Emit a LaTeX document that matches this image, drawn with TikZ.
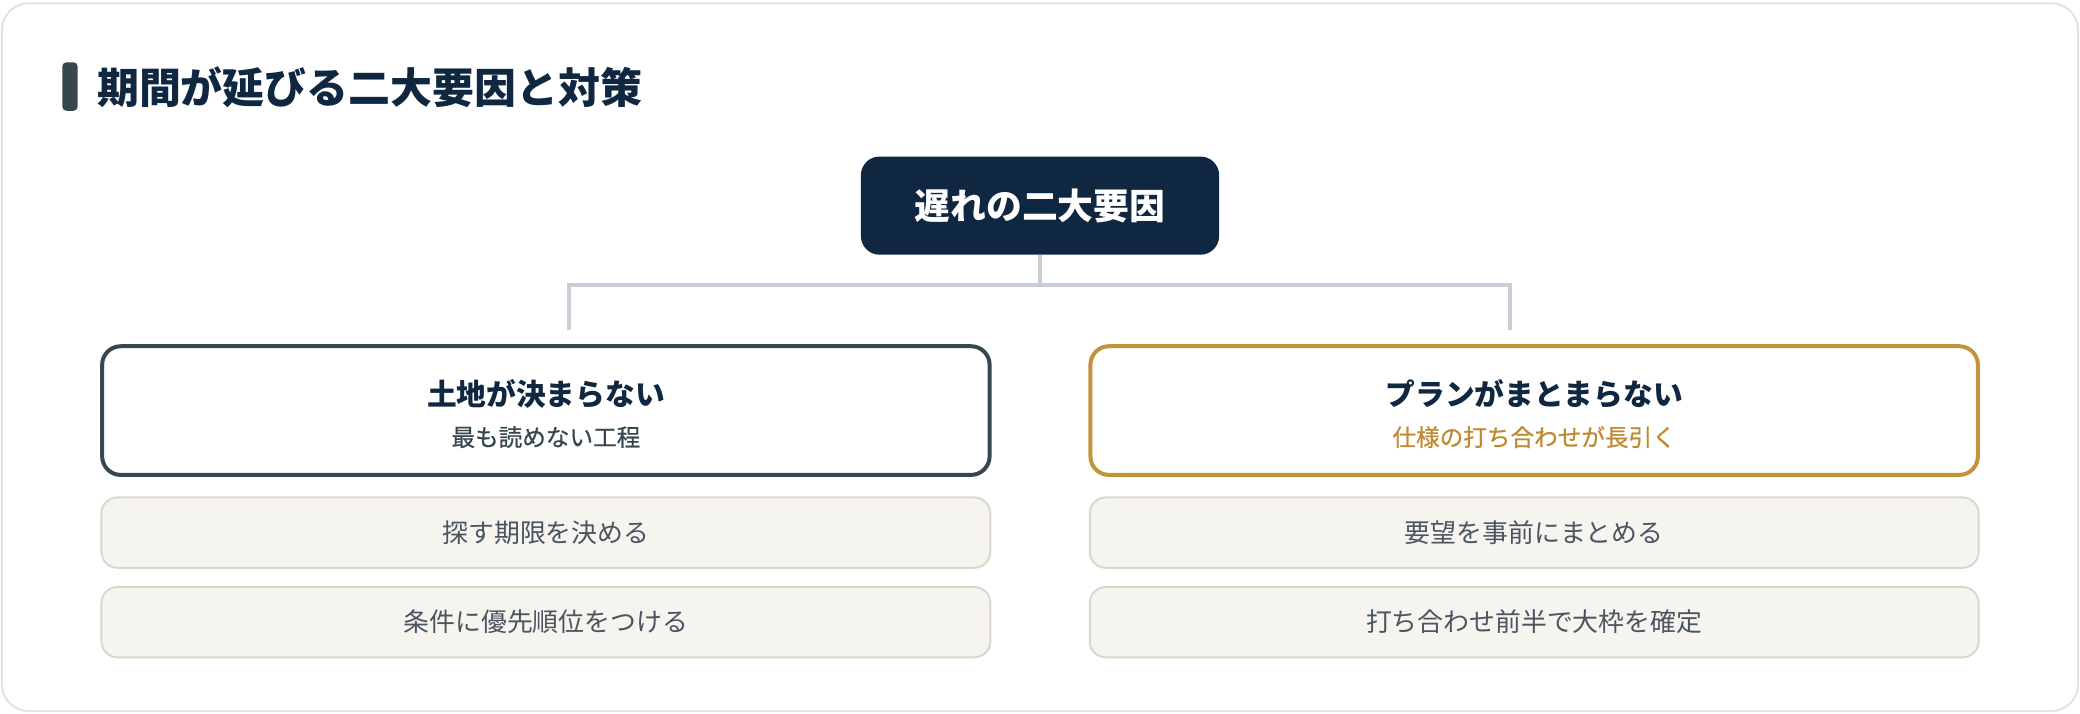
\documentclass[tikz,border=0pt]{standalone}
\usepackage{fontspec}
\setmainfont{Noto Sans CJK JP}
\newfontfamily\jpmed{Noto Sans CJK JP}[FakeBold=0.7]
\definecolor{navy}{HTML}{0F2740}
\definecolor{slate}{HTML}{37474F}
\definecolor{gold}{HTML}{C4923A}
\definecolor{goldtext}{HTML}{C08A32}
\definecolor{connc}{HTML}{C8CED8}
\definecolor{actfill}{HTML}{F5F4EF}
\definecolor{actline}{HTML}{DCD8C9}
\definecolor{outline}{HTML}{E6E3D9}
\definecolor{acttext}{HTML}{4B5560}
\tikzset{
  rootbox/.style={fill=navy, rounded corners=14pt, minimum width=270pt, minimum height=74pt, inner sep=0pt, text=white, font=\fontsize{27}{30}\selectfont\bfseries},
  causebox/.style={fill=white, line width=3pt, rounded corners=14pt, minimum width=669pt, minimum height=97pt, inner sep=0pt},
  actbox/.style={fill=actfill, draw=actline, line width=1.5pt, rounded corners=12pt, minimum width=670pt, minimum height=53pt, inner sep=0pt, text=acttext, font=\fontsize{19.5}{22}\selectfont},
  causetitle/.style={inner sep=0pt, text=navy, font=\fontsize{22.4}{25}\selectfont\bfseries},
  causesub/.style={inner sep=0pt, font=\jpmed\fontsize{17.8}{20}\selectfont},
  conn/.style={draw=connc, line width=3pt}
}
\begin{document}
\begin{tikzpicture}[x=1pt,y=-1pt]
\useasboundingbox (0,0) rectangle (1568,538);
\fill[white] (0,0) rectangle (1568,538);
\draw[outline, line width=1.5pt, rounded corners=20pt] (1.5,2.5) rectangle (1566.5,536);
% title
\fill[slate, rounded corners=3pt] (47,47) rectangle (58.5,83.5);
\node[anchor=west, inner sep=0pt, text=navy, font=\fontsize{31.6}{36}\selectfont\bfseries] (title) at (73,66) {期間が延びる二大要因と対策};
% root
\node[rootbox] (root) at (784,155) {遅れの二大要因};
% cause boxes
\node[causebox, draw=slate] (left) at (411.5,309.5) {};
\node[causebox, draw=gold] (right) at (1156.5,309.5) {};
\node[causetitle] (lt) at (411.5,297) {土地が決まらない};
\node[causesub, text=slate] (ls) at (411.5,329.5) {最も読めない工程};
\node[causetitle] (rt) at (1156.5,297) {プランがまとまらない};
\node[causesub, text=goldtext] (rs) at (1156.5,329.5) {仕様の打ち合わせが長引く};
% actions
\node[actbox] (la1) at (411.5,401.5) {探す期限を決める};
\node[actbox] (la2) at (411.5,469) {条件に優先順位をつける};
\node[actbox] (ra1) at (1156.5,401.5) {要望を事前にまとめる};
\node[actbox] (ra2) at (1156.5,469) {打ち合わせ前半で大枠を確定};
% connectors
\coordinate (lj) at ([xshift=17.5pt,yshift=11pt]left.north);
\coordinate (rj) at ([xshift=-18.5pt,yshift=11pt]right.north);
\draw[conn] (root.south) -- ++(0,23) -| (lj);
\draw[conn] (root.south) -- ++(0,23) -| (rj);
\end{tikzpicture}
\end{document}
